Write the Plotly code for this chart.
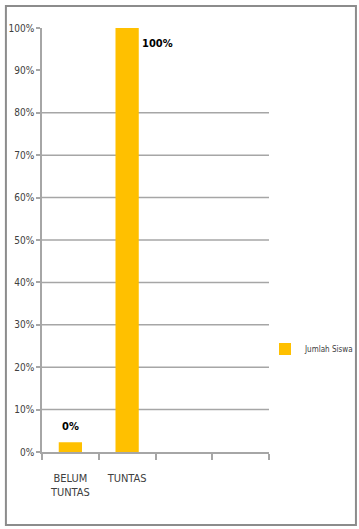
import plotly.graph_objects as go

# ---- data ----
categories = ["BELUM<br>TUNTAS", "TUNTAS"]
empty_slots = [" ", "  "]
values = [2.3, 100]          # bar heights (%)
value_labels = ["0%", "100%"]
series_name = "Jumlah Siswa"
grid_levels = [10, 20, 30, 40, 50, 60, 70, 80]
y_ticks = [0, 10, 20, 30, 40, 50, 60, 70, 80, 90, 100]
y_tick_text = [f"{v}%" for v in y_ticks]

FONT = "Liberation Sans Narrow, DejaVu Sans Condensed, Arial Narrow, sans-serif"
BAR = "#FFC000"
GRID = "#A6A6A6"
TXT = "#404040"

fig = go.Figure()
fig.add_trace(go.Bar(
    x=categories, y=values, name=series_name,
    marker=dict(color=BAR, line=dict(width=0)),
    showlegend=True,
))

# gridlines (only drawn where the reference shows them)
for g in grid_levels:
    fig.add_shape(type="line", xref="paper", yref="y", x0=0, x1=1, y0=g, y1=g,
                  line=dict(color=GRID, width=1.5), layer="below")

# data labels
label_style = [
    dict(xanchor="center", yanchor="bottom", xshift=0, yshift=7),
    dict(xanchor="left", yanchor="top", xshift=13, yshift=-7),
]
for cat, v, lab, st in zip(categories, values, value_labels, label_style):
    fig.add_annotation(x=cat, y=v, text="<b>" + lab + "</b>", showarrow=False,
                       font=dict(family=FONT, size=11, color="#000000"), **st)

# outer border
fig.add_shape(type="rect", xref="paper", yref="paper",
              x0=-0.159, x1=1.383, y0=-0.172, y1=1.052,
              line=dict(color="#8C8C8C", width=2), fillcolor="rgba(0,0,0,0)")

fig.update_layout(
    width=359, height=529,
    margin=dict(l=42, r=90, t=28, b=77, autoexpand=False),
    paper_bgcolor="white", plot_bgcolor="white",
    bargap=0.59,
    font=dict(family=FONT, size=11, color=TXT),
    legend=dict(xref="container", yref="container",
                x=265 / 359, y=(529 - 349) / 529, xanchor="left", yanchor="middle",
                font=dict(family=FONT, size=8, color=TXT),
                itemwidth=30, bgcolor="rgba(0,0,0,0)"),
    xaxis=dict(
        type="category", categoryorder="array",
        categoryarray=categories + empty_slots,
        range=[-0.5, 3.5], tickson="boundaries", tickangle=0,
        ticks="outside", ticklen=6, tickcolor=GRID, tickwidth=1.5,
        showline=True, linecolor=GRID, linewidth=1.5,
        showgrid=False, zeroline=False,
        ticklabelstandoff=15,
        tickfont=dict(family=FONT, size=11, color=TXT),
        fixedrange=True,
    ),
    yaxis=dict(
        range=[0, 100], tickvals=y_ticks, ticktext=y_tick_text,
        ticks="outside", ticklen=4, tickcolor=GRID, tickwidth=1.5,
        showline=True, linecolor=GRID, linewidth=1.5,
        showgrid=False, zeroline=False,
        tickfont=dict(family=FONT, size=10, color=TXT),
        fixedrange=True,
    ),
)

fig.write_html("out.html")
